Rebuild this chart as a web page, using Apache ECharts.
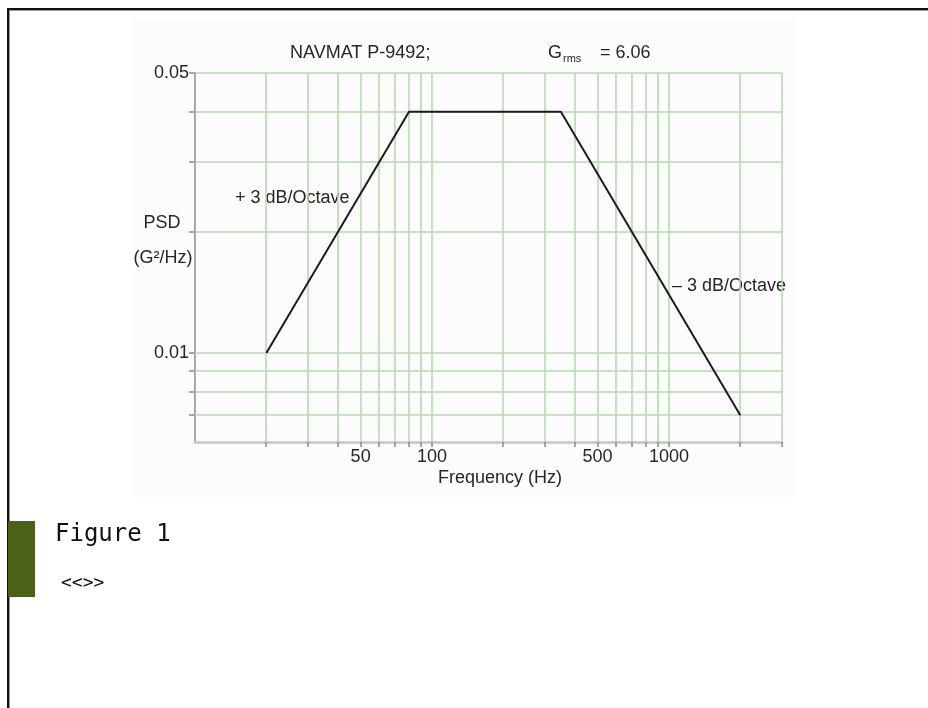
<!DOCTYPE html>
<html>
<head>
<meta charset="utf-8">
<style>
html,body{margin:0;padding:0;background:#fff;}
#chart{width:928px;height:708px;}
</style>
<script src="https://cdn.jsdelivr.net/npm/echarts@6/dist/echarts.min.js"></script>
</head>
<body>
<div id="chart"></div>
<script>
// ---- data ----
const freqGrid = [20, 30, 40, 50, 60, 70, 80, 90, 100, 200, 300, 400, 500, 600, 700, 800, 900, 1000, 2000, 3000];
const freqLabels = [50, 100, 500, 1000];
const psdGrid = [0.007, 0.008, 0.009, 0.01, 0.02, 0.03, 0.04, 0.05];
const psdLabels = [0.01, 0.05];
const profileFreq = [20, 80, 350, 2000];
const profilePsd = [0.01, 0.04, 0.04, 0.007];

const X_MIN = 10, X_MAX = 3000, Y_MIN = 0.006, Y_MAX = 0.05;
const FONT = '"Liberation Sans", Arial, sans-serif';
const GRID_COLOR = '#b2ddab';
const TEXT_COLOR = '#262626';

function px(v) { return Math.round(v); }

const chart = echarts.init(document.getElementById('chart'), null, {renderer: 'canvas'});

const option = {
  backgroundColor: '#ffffff',
  animation: false,
  grid: {left: 195, top: 73, width: 587, height: 369, containLabel: false},
  xAxis: {
    type: 'log', logBase: 10, min: X_MIN, max: X_MAX,
    axisLine: {show: true, onZero: false, lineStyle: {color: '#cdcdcd', width: 3}},
    axisTick: {show: false}, axisLabel: {show: false}, splitLine: {show: false}
  },
  yAxis: {
    type: 'log', logBase: 10, min: Y_MIN, max: Y_MAX,
    axisLine: {show: true, lineStyle: {color: '#8e8e8e', width: 1.5}},
    axisTick: {show: false}, axisLabel: {show: false}, splitLine: {show: false}
  },
  graphic: [
    // page frame
    {type: 'rect', shape: {x: 133, y: 18, width: 662, height: 479}, style: {fill: '#fcfcfc'}, z: -10, silent: true},
    {type: 'line', shape: {x1: 8, y1: 9, x2: 928, y2: 9}, style: {stroke: '#111', lineWidth: 2}},
    {type: 'line', shape: {x1: 10, y1: 10.5, x2: 928, y2: 10.5}, style: {stroke: '#999', lineWidth: 1}},
    {type: 'line', shape: {x1: 8, y1: 8, x2: 8, y2: 708}, style: {stroke: '#111', lineWidth: 2}},
    {type: 'line', shape: {x1: 9.5, y1: 10, x2: 9.5, y2: 708}, style: {stroke: '#999', lineWidth: 1}},
    {type: 'rect', shape: {x: 8, y: 521, width: 27, height: 76}, style: {fill: '#4a6116'}},
    {type: 'text', x: 55, y: 535, style: {text: 'Figure 1', font: '24px "DejaVu Sans Mono", monospace', fill: '#111', verticalAlign: 'middle'}},
    {type: 'text', x: 61, y: 583, style: {text: '<<>>', font: '18px "DejaVu Sans Mono", monospace', fill: '#111', verticalAlign: 'middle'}},
    // chart texts
    {type: 'text', x: 290, y: 53, style: {text: 'NAVMAT P-9492;', font: '18px ' + FONT, fill: TEXT_COLOR, verticalAlign: 'middle'}},
    {type: 'text', x: 548, y: 53, style: {text: 'G', font: '18px ' + FONT, fill: TEXT_COLOR, verticalAlign: 'middle'}},
    {type: 'text', x: 563, y: 59, style: {text: 'rms', font: '11px ' + FONT, fill: TEXT_COLOR, verticalAlign: 'middle'}},
    {type: 'text', x: 600, y: 53, style: {text: '= 6.06', font: '18px ' + FONT, fill: TEXT_COLOR, verticalAlign: 'middle'}},
    {type: 'text', x: 162, y: 223, style: {text: 'PSD', font: '18px ' + FONT, fill: TEXT_COLOR, align: 'center', verticalAlign: 'middle'}},
    {type: 'text', x: 163, y: 258, style: {text: '(G²/Hz)', font: '18px ' + FONT, fill: TEXT_COLOR, align: 'center', verticalAlign: 'middle'}},
    {type: 'text', x: 235, y: 198, style: {text: '+ 3 dB/Octave', font: '18px ' + FONT, fill: TEXT_COLOR, verticalAlign: 'middle'}},
    {type: 'text', x: 672, y: 286, style: {text: '– 3 dB/Octave', font: '18px ' + FONT, fill: TEXT_COLOR, verticalAlign: 'middle'}},
    {type: 'text', x: 500, y: 478, style: {text: 'Frequency (Hz)', font: '18px ' + FONT, fill: TEXT_COLOR, align: 'center', verticalAlign: 'middle'}}
  ],
  series: [
    {
      name: 'vgrid', type: 'custom', coordinateSystem: 'cartesian2d', clip: false, silent: true, z: 1,
      data: freqGrid.map(f => [f, Y_MIN]),
      renderItem: function (params, api) {
        const f = api.value(0);
        const top = api.coord([f, Y_MAX]);
        const bot = api.coord([f, Y_MIN]);
        const x = px(top[0]);
        const children = [
          {type: 'line', shape: {x1: x, y1: top[1], x2: x, y2: bot[1]}, style: {stroke: GRID_COLOR, lineWidth: 1.6}},
          {type: 'line', shape: {x1: x, y1: bot[1], x2: x, y2: bot[1] + 5}, style: {stroke: '#8a8a8a', lineWidth: 1.5}}
        ];
        if (freqLabels.indexOf(f) >= 0) {
          children.push({type: 'text', style: {text: String(f), x: bot[0], y: bot[1] + 15, align: 'center', verticalAlign: 'middle', font: '18px ' + FONT, fill: TEXT_COLOR}});
        }
        return {type: 'group', children: children};
      }
    },
    {
      name: 'hgrid', type: 'custom', coordinateSystem: 'cartesian2d', clip: false, silent: true, z: 1,
      data: psdGrid.map(p => [X_MIN, p]),
      renderItem: function (params, api) {
        const p = api.value(1);
        const l = api.coord([X_MIN, p]);
        const r = api.coord([X_MAX, p]);
        const y = px(l[1]);
        const children = [
          {type: 'line', shape: {x1: l[0], y1: y, x2: r[0], y2: y}, style: {stroke: GRID_COLOR, lineWidth: 1.6}},
          {type: 'line', shape: {x1: l[0] - 6, y1: y, x2: l[0], y2: y}, style: {stroke: '#8a8a8a', lineWidth: 1.5}}
        ];
        if (psdLabels.indexOf(p) >= 0) {
          children.push({type: 'text', style: {text: String(p), x: l[0] - 6, y: l[1], align: 'right', verticalAlign: 'middle', font: '18px ' + FONT, fill: TEXT_COLOR}});
        }
        return {type: 'group', children: children};
      }
    },
    {
      name: 'PSD', type: 'line', z: 5, symbol: 'none', silent: true,
      data: profileFreq.map((f, i) => [f, profilePsd[i]]),
      lineStyle: {color: '#1c1c1c', width: 2}
    }
  ]
};
chart.setOption(option);
</script>
</body>
</html>
